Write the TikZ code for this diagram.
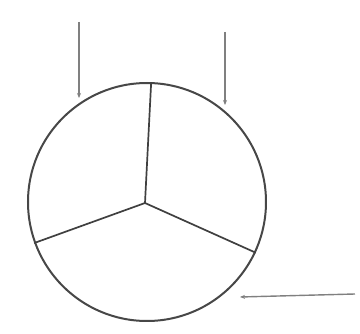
\documentclass[tikz,border=0pt]{standalone}
\usetikzlibrary{arrows.meta}
\begin{document}
\begin{tikzpicture}[x=1pt,y=-1pt,
  wheel/.style={circle,draw=black!72,line width=2pt,minimum size=238pt,inner sep=0pt},
  spoke/.style={draw=black!75,line width=1.7pt},
  pointer/.style={draw=black!50,line width=1.4pt,-{Stealth[length=5pt,width=4pt]}}]
\fill[white] (0,0) rectangle (360,334);
\useasboundingbox (0,0) rectangle (360,334);
\node[wheel] (w) at (147,202) {};
\coordinate (c) at (145,203);
\draw[spoke] (c) -- (w.88.5);
\draw[spoke] (c) -- (w.200.4);
\draw[spoke] (c) -- (w.335.4);
\coordinate (a1s) at (79,22);
\coordinate (a1e) at (79,98);
\coordinate (a2s) at (225,32);
\coordinate (a2e) at (225,105);
\coordinate (a3s) at (355,294);
\coordinate (a3e) at (240,297);
\draw[pointer] (a1s) -- (a1e);
\draw[pointer] (a2s) -- (a2e);
\draw[pointer] (a3s) -- (a3e);
\end{tikzpicture}
\end{document}
